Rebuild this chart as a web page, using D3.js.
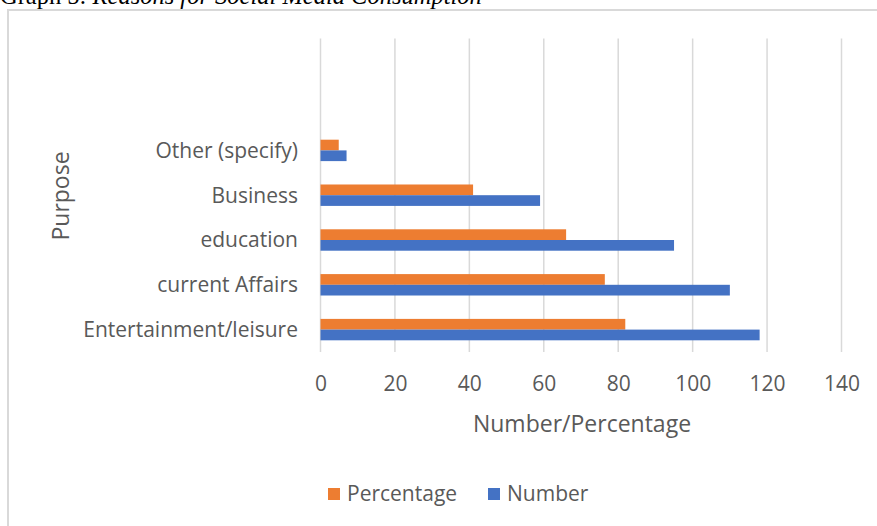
<!DOCTYPE html>
<html><head><meta charset="utf-8">
<script src="https://cdn.jsdelivr.net/npm/d3@7"></script>
<style>body{margin:0;background:#fff;}svg{display:block;}</style>
</head><body>
<script>
// Data
const categories = ["Entertainment/leisure","current Affairs","education","Business","Other (specify)","",""];
const numberValues = [118,110,95,59,7,null,null];
const percentageValues = [81.9,76.4,66.0,41.0,4.9,null,null];
const xTicks = [0,20,40,60,80,100,120,140];
const seriesNames = ["Percentage","Number"];
const colors = {Percentage:"#ED7D31", Number:"#4472C4"};

const W=877,H=526;
const svg=d3.select("body").append("svg").attr("width",W).attr("height",H);
const font="'Open Sans', 'Segoe UI', sans-serif";

// Title (cut off at the top, as in the reference)
const title=svg.append("text").attr("x",0).attr("y",4)
  .attr("font-family","'Liberation Serif', 'Times New Roman', serif").attr("font-size",24.5).attr("fill","#000");
title.append("tspan").text("Graph 5: ");
title.append("tspan").attr("font-style","italic").text("Reasons for Social Media Consumption");

// frame
svg.append("rect").attr("x",8).attr("y",10).attr("width",W).attr("height",H)
  .attr("fill","none").attr("stroke","#d9d9d9").attr("stroke-width",2);

const m={left:320.5,right:841.5,top:38.4,bottom:352};
const x=d3.scaleLinear().domain([0,140]).range([m.left,m.right]);
const idx=categories.map((d,i)=>i);
const y=d3.scaleBand().domain(idx).range([m.bottom,m.top]).paddingInner(0.522).paddingOuter(0.261);

// gridlines
svg.append("g").selectAll("line").data(xTicks).join("line")
  .attr("x1",d=>x(d)).attr("x2",d=>x(d)).attr("y1",m.top).attr("y2",m.bottom)
  .attr("stroke","#d9d9d9").attr("stroke-width",1.5);

// bars
const sub=d3.scaleBand().domain(seriesNames).range([0,y.bandwidth()]);
const rows=idx.map(i=>({i,Percentage:percentageValues[i],Number:numberValues[i]}));
const g=svg.append("g");
rows.forEach(r=>{
  seriesNames.forEach(s=>{
    if(r[s]==null) return;
    g.append("rect").attr("x",x(0)).attr("y",y(r.i)+sub(s))
      .attr("width",x(r[s])-x(0)).attr("height",sub.bandwidth())
      .attr("fill",colors[s]);
  });
});

// x axis labels
const xa=d3.axisBottom(x).tickValues(xTicks).tickSize(0).tickPadding(0);
const xg=svg.append("g").attr("transform",`translate(0,${m.bottom})`).call(xa);
xg.select(".domain").remove();
xg.selectAll("text").attr("dy",0).attr("y",39).attr("font-family",font).attr("font-size",21).attr("fill","#595959");

// y axis labels
const ya=d3.axisLeft(y).tickFormat(i=>categories[i]).tickSize(0).tickPadding(0);
const yg=svg.append("g").attr("transform",`translate(298,0)`).call(ya);
yg.select(".domain").remove();
yg.selectAll("text").attr("font-family",font).attr("font-size",21).attr("fill","#595959").attr("dy","0.35em");

// axis titles
svg.append("text").attr("x",582).attr("y",432).attr("text-anchor","middle")
  .attr("font-family",font).attr("font-size",23).attr("fill","#595959").text("Number/Percentage");
svg.append("text").attr("transform","translate(69,196) rotate(-90)").attr("text-anchor","middle")
  .attr("font-family",font).attr("font-size",23).attr("fill","#595959").text("Purpose");

// legend
const leg=svg.append("g");
const legItems=[{n:"Percentage",x:328},{n:"Number",x:488}];
legItems.forEach(l=>{
  leg.append("rect").attr("x",l.x).attr("y",488).attr("width",12).attr("height",12).attr("fill",colors[l.n]);
  leg.append("text").attr("x",l.x+19).attr("y",501).attr("font-family",font).attr("font-size",21).attr("fill","#595959").text(l.n);
});
</script>
</body></html>
